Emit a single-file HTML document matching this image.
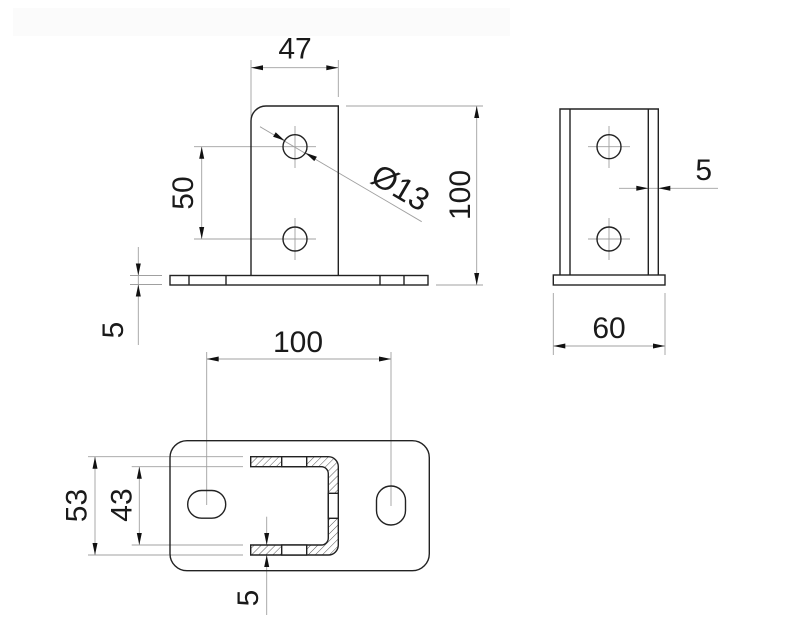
<!DOCTYPE html>
<html><head><meta charset="utf-8"><style>
html,body{margin:0;padding:0;background:#fff;}
svg{display:block;}
text{font-family:"Liberation Sans",Arial,sans-serif;font-size:30px;fill:#1a1a1a;}
</style></head><body>
<svg width="800" height="640" viewBox="0 0 800 640" xmlns="http://www.w3.org/2000/svg">
<defs>
<pattern id="h" patternUnits="userSpaceOnUse" width="5" height="5" patternTransform="rotate(45)">
<rect width="5" height="5" fill="#fff"/>
<line x1="0" y1="0" x2="0" y2="5" stroke="#555" stroke-width="1"/>
</pattern>
</defs>
<rect x="13" y="8" width="497" height="28" fill="#fbfbfb"/>

<!-- dimension / center lines (gray) -->
<g stroke="#a0a0a0" stroke-width="0.9" fill="none">
 <line x1="251" y1="60" x2="251" y2="120"/>
 <line x1="338.3" y1="60" x2="338.3" y2="97"/>
 <line x1="251" y1="67.7" x2="338.3" y2="67.7"/>
 <line x1="346" y1="106" x2="483" y2="106"/>
 <line x1="436" y1="285" x2="483" y2="285"/>
 <line x1="476.7" y1="106" x2="476.7" y2="285"/>
 <line x1="194" y1="146.7" x2="316" y2="146.7"/>
 <line x1="194" y1="239" x2="316" y2="239"/>
 <line x1="201.7" y1="146.7" x2="201.7" y2="239"/>
 <line x1="295" y1="126" x2="295" y2="168"/>
 <line x1="295" y1="218" x2="295" y2="260"/>
 <line x1="130" y1="275.5" x2="162" y2="275.5"/>
 <line x1="130" y1="284.5" x2="162" y2="284.5"/>
 <line x1="138.3" y1="247" x2="138.3" y2="345"/>
 <line x1="260" y1="126.7" x2="421.7" y2="221.7"/>
 <line x1="588" y1="146.7" x2="630" y2="146.7"/>
 <line x1="609" y1="126" x2="609" y2="168"/>
 <line x1="588" y1="239" x2="630" y2="239"/>
 <line x1="609" y1="218" x2="609" y2="260"/>
 <line x1="619" y1="188.3" x2="718" y2="188.3"/>
 <line x1="553.3" y1="293" x2="553.3" y2="355"/>
 <line x1="665" y1="293" x2="665" y2="355"/>
 <line x1="553.3" y1="346" x2="665" y2="346"/>
 <line x1="206.7" y1="352" x2="206.7" y2="505"/>
 <line x1="391" y1="352" x2="391" y2="506"/>
 <line x1="206.7" y1="359" x2="391" y2="359"/>
 <line x1="88" y1="456.7" x2="243" y2="456.7"/>
 <line x1="88" y1="555" x2="243" y2="555"/>
 <line x1="95" y1="456.7" x2="95" y2="555"/>
 <line x1="131.7" y1="466.7" x2="243" y2="466.7"/>
 <line x1="131.7" y1="545" x2="243" y2="545"/>
 <line x1="139.3" y1="466.7" x2="139.3" y2="545"/>
 <line x1="266.7" y1="516.7" x2="266.7" y2="615"/>
</g>

<!-- part outlines -->
<g stroke="#222" stroke-width="1.4" fill="none">
 <path d="M251,275.5 V121 A15,15 0 0 1 266,106 H338.3 V275.5"/>
 <rect x="170" y="275.5" width="258" height="9.5"/>
 <line x1="189" y1="275.5" x2="189" y2="285"/>
 <line x1="226" y1="275.5" x2="226" y2="285"/>
 <line x1="380" y1="275.5" x2="380" y2="285"/>
 <line x1="404" y1="275.5" x2="404" y2="285"/>
 <circle cx="295" cy="146.7" r="12"/>
 <circle cx="295" cy="239" r="12"/>

 <path d="M560,275 V109 H658.3 V275"/>
 <line x1="570" y1="109" x2="570" y2="275"/>
 <line x1="648.3" y1="109" x2="648.3" y2="275"/>
 <rect x="553.3" y="275" width="111.7" height="10"/>
 <circle cx="609" cy="146.7" r="12"/>
 <circle cx="609" cy="239" r="12"/>

 <rect x="170" y="440.7" width="259.3" height="130" rx="17"/>
 <rect x="187.7" y="490.5" width="38" height="27.7" rx="13.85"/>
 <rect x="376.5" y="486" width="29" height="39" rx="14.5"/>
 <path d="M250.7,456.7 H328.3 A10,10 0 0 1 338.3,466.7 V545 A10,10 0 0 1 328.3,555 H250.7 V545 H321.3 A7,7 0 0 0 328.3,538 V473.7 A7,7 0 0 0 321.3,466.7 H250.7 Z" fill="url(#h)"/>
 <rect x="281.7" y="456.7" width="25" height="10" fill="#fff"/>
 <rect x="281.7" y="545" width="25" height="10" fill="#fff"/>
 <rect x="328.3" y="493.3" width="10" height="25" fill="#fff"/>
</g>

<!-- arrowheads -->
<g fill="#111">
 <polygon points="251,67.7 263,65.2 263,70.2"/>
 <polygon points="338.3,67.7 326.3,65.2 326.3,70.2"/>
 <polygon points="476.7,106 474.2,118 479.2,118"/>
 <polygon points="476.7,285 474.2,273 479.2,273"/>
 <polygon points="201.7,146.7 199.2,158.7 204.2,158.7"/>
 <polygon points="201.7,239 199.2,227 204.2,227"/>
 <polygon points="138.3,275.5 135.8,263.5 140.8,263.5"/>
 <polygon points="138.3,284.5 135.8,296.5 140.8,296.5"/>
 <polygon points="284.7,140.6 273.1,136.7 275.7,132.3"/>
 <polygon points="305.3,152.8 314.3,161.1 316.9,156.7"/>
 <polygon points="648.3,188.3 636.3,185.8 636.3,190.8"/>
 <polygon points="658.3,188.3 670.3,185.8 670.3,190.8"/>
 <polygon points="553.3,346 565.3,343.5 565.3,348.5"/>
 <polygon points="665,346 653,343.5 653,348.5"/>
 <polygon points="206.7,359 218.7,356.5 218.7,361.5"/>
 <polygon points="391,359 379,356.5 379,361.5"/>
 <polygon points="95,456.7 92.5,468.7 97.5,468.7"/>
 <polygon points="95,555 92.5,543 97.5,543"/>
 <polygon points="139.3,466.7 136.8,478.7 141.8,478.7"/>
 <polygon points="139.3,545 136.8,533 141.8,533"/>
 <polygon points="266.7,545 264.2,533 269.2,533"/>
 <polygon points="266.7,555 264.2,567 269.2,567"/>
</g>

<!-- labels -->
<text x="295" y="58.5" text-anchor="middle">47</text>
<text transform="translate(193,193) rotate(-90)" text-anchor="middle">50</text>
<text transform="translate(470,195) rotate(-90)" text-anchor="middle">100</text>
<text transform="translate(123,330) rotate(-90)" text-anchor="middle">5</text>
<text transform="translate(395,197) rotate(30.4)" text-anchor="middle" style="font-size:32px">Ø13</text>
<text x="703.7" y="180" text-anchor="middle">5</text>
<text x="609" y="338" text-anchor="middle">60</text>
<text x="298" y="352" text-anchor="middle">100</text>
<text transform="translate(86.7,505.5) rotate(-90)" text-anchor="middle">53</text>
<text transform="translate(131.7,505) rotate(-90)" text-anchor="middle">43</text>
<text transform="translate(258,598) rotate(-90)" text-anchor="middle">5</text>
</svg>
</body></html>
